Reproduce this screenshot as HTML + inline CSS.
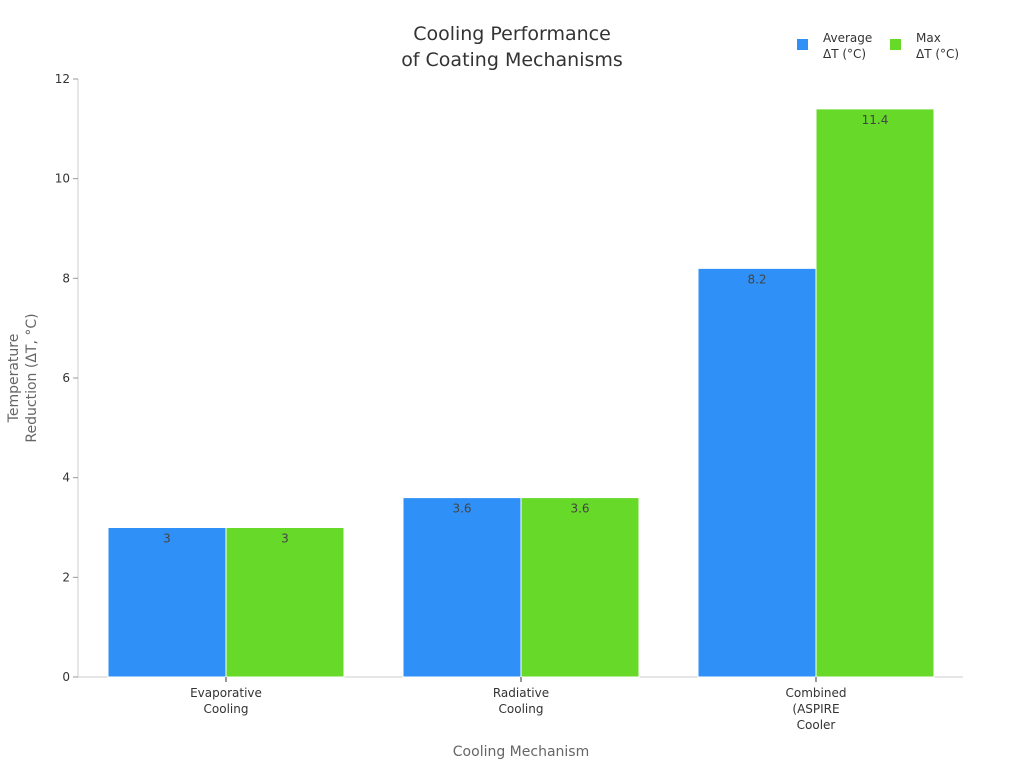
<!DOCTYPE html>
<html><head><meta charset="utf-8"><style>
body{margin:0;background:#fff;font-family:"DejaVu Sans","Liberation Sans",sans-serif}
svg text{font-family:"DejaVu Sans","Liberation Sans",sans-serif}
</style></head><body>
<svg id="chart" width="1024" height="768" xmlns="http://www.w3.org/2000/svg">
<text x="512" y="40" text-anchor="middle" font-size="19" fill="#333">Cooling Performance</text>
<text x="512" y="66" text-anchor="middle" font-size="19" fill="#333">of Coating Mechanisms</text>
<g>
<rect x="797" y="39" width="11" height="11" fill="#2f91f7"/>
<text x="823" y="42" font-size="12" fill="#333">Average</text>
<text x="823" y="58" font-size="12" fill="#333">ΔT (°C)</text>
<rect x="890" y="39" width="11" height="11" fill="#66d929"/>
<text x="916" y="42" font-size="12" fill="#333">Max</text>
<text x="916" y="58" font-size="12" fill="#333">ΔT (°C)</text>
</g>
<text transform="translate(18,378) rotate(-90)" text-anchor="middle" font-size="14" fill="#666">Temperature</text>
<text transform="translate(36,378) rotate(-90)" text-anchor="middle" font-size="14" fill="#666">Reduction (ΔT, °C)</text>
<text x="521" y="756" text-anchor="middle" font-size="14" fill="#666">Cooling Mechanism</text>
<g id="plot"></g>
</svg>
<script>
const categories = [["Evaporative","Cooling"],["Radiative","Cooling"],["Combined","(ASPIRE","Cooler"]];
const averageValues = [3, 3.6, 8.2];
const maxValues = [3, 3.6, 11.4];
const yTicks = [0, 2, 4, 6, 8, 10, 12];

const NS = "http://www.w3.org/2000/svg";
const plot = document.getElementById("plot");
const x0 = 78, x1 = 963, yBase = 677, yTop = 79, yMax = 12;
const y = v => yBase - (v / yMax) * (yBase - yTop);
const band = (x1 - x0 - 0) / categories.length;
const cx = i => 226 + i * 295;
function mk(tag, attrs){const e=document.createElementNS(NS,tag);for(const k in attrs)e.setAttribute(k,attrs[k]);plot.appendChild(e);return e;}

let e = mk("line",{x1:x0,y1:yTop,x2:x0,y2:yBase,stroke:"#ccc"});


e = mk("line",{x1:x0,y1:yBase,x2:x1,y2:yBase,stroke:"#ccc"});



yTicks.forEach(t=>{
  const tk = mk("line",{x1:x0-5,y1:y(t),x2:x0,y2:y(t),stroke:"#999"});
  
  
  const tl = mk("text",{x:x0-8,y:y(t)+4,"text-anchor":"end","font-size":12,fill:"#333"});
  tl.textContent = t;
  
  
});

const bw = 118;
categories.forEach((c,i)=>{
  const series = [[averageValues[i],"#2f91f7",-bw,"bar-average"],[maxValues[i],"#66d929",0,"bar-max"]];
  series.forEach(([v,col,off,nm])=>{
    const r = mk("rect",{x:cx(i)+off,y:y(v),width:bw,height:yBase-y(v),fill:col,stroke:"#fff","stroke-width":1});
    
    
    const l = mk("text",{x:cx(i)+off+bw/2,y:y(v)+15,"text-anchor":"middle","font-size":12,fill:"#444"});
    l.textContent = v;
    
    
  });
  const tk = mk("line",{x1:cx(i),y1:yBase,x2:cx(i),y2:yBase+5,stroke:"#333"});
  
  
  c.forEach((line,j)=>{
    const t = mk("text",{x:cx(i),y:697+j*16,"text-anchor":"middle","font-size":12,fill:"#333"});
    t.textContent = line;
    
    
  });
});
</script>
</body></html>
